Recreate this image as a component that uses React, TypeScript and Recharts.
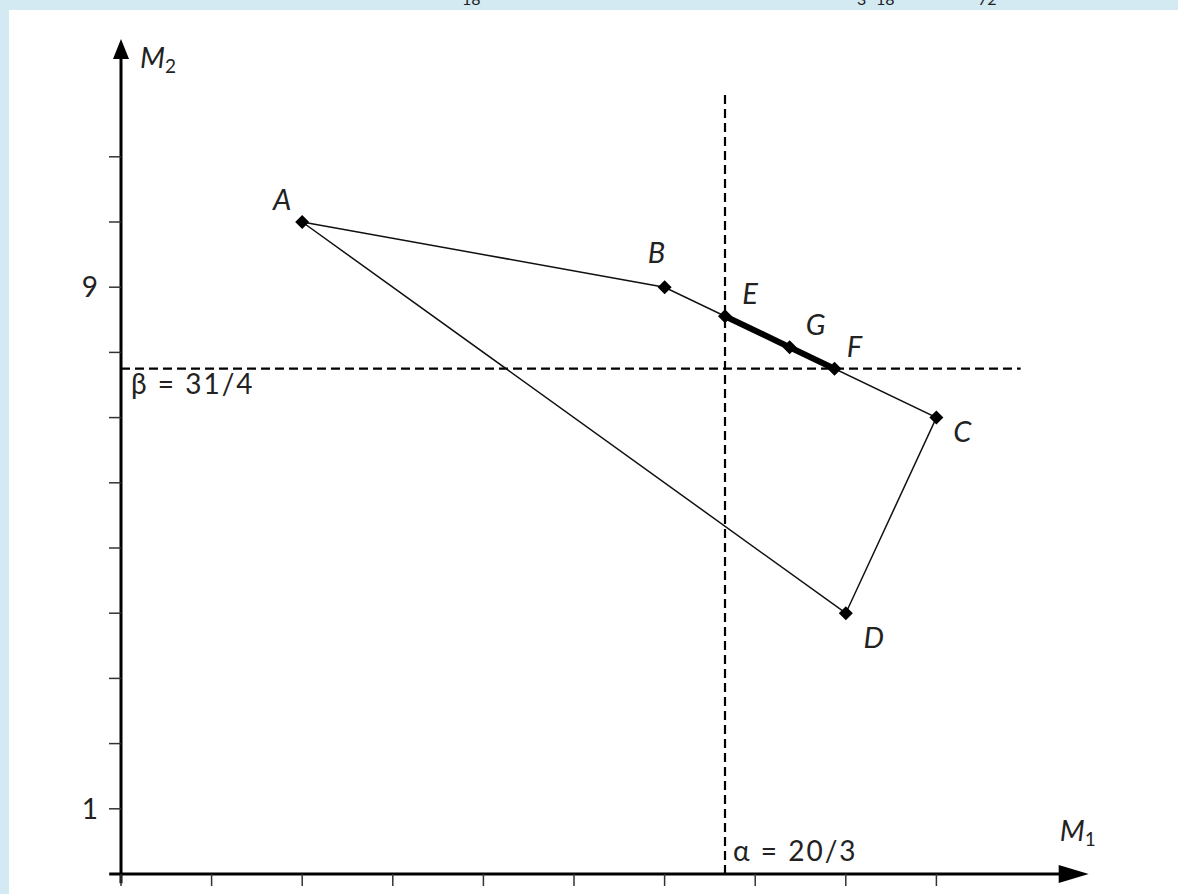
import {
  ComposedChart,
  Line,
  ReferenceDot,
  ReferenceLine,
  Scatter,
  XAxis,
  YAxis,
} from 'recharts';

// polygon A-B-C-D (closed back to A)
const polygonNames = ['A', 'B', 'C', 'D', 'A'];
const polygonX = [2, 6, 9, 8, 2];
const polygonY = [10, 9, 7, 4, 10];

// bold segment E-F on edge BC, with G on it
const segmentNames = ['E', 'G', 'F'];
const segmentX = [20 / 3, 7.38, 7.875];
const segmentY = [77 / 9, 8.08, 7.75];

const alpha = 20 / 3;
const beta = 31 / 4;

const xTicks = [0, 1, 2, 3, 4, 5, 6, 7, 8, 9];
const yTicks = [1, 2, 3, 4, 5, 6, 7, 8, 9, 10, 11];
const yTickLabels: Record<number, string> = { 1: '1', 9: '9' };

const FONT = 'Lato, "Open Sans", sans-serif';
const INK = '#222';

// label offsets from each point (px)
const labelOffset: Record<string, [number, number]> = {
  A: [-20, -24],
  B: [-8, -36],
  C: [26, 13],
  D: [28, 23],
  E: [25, -24],
  G: [26, -24],
  F: [20, -23],
};

const polygonData = polygonX.map((x, i) => ({ x, y: polygonY[i], name: polygonNames[i] }));
const segmentData = segmentX.map((x, i) => ({ x, y: segmentY[i], name: segmentNames[i] }));
const pointData = [...polygonData.slice(0, 4), ...segmentData];

function PointMark(props: any) {
  const { cx, cy, payload } = props;
  if (cx == null || cy == null) return null;
  const r = 7;
  const [dx, dy] = labelOffset[payload.name] ?? [0, 0];
  return (
    <g>
      <polygon
        points={`${cx},${cy - r} ${cx + r},${cy} ${cx},${cy + r} ${cx - r},${cy}`}
        fill="#000"
      />
      <text
        x={cx + dx}
        y={cy + dy}
        textAnchor="middle"
        dominantBaseline="central"
        fontFamily={FONT}
        fontStyle="italic"
        fontSize={29}
        fill={INK}
      >
        {payload.name}
      </text>
    </g>
  );
}

function UpArrow(props: any) {
  const { cx, cy } = props;
  return (
    <g>
      <polygon points={`${cx - 8},${cy} ${cx + 8},${cy} ${cx},${cy - 20}`} fill="#000" />
      <text x={cx + 19} y={cy + 9} fontFamily={FONT} fontStyle="italic" fontSize={29} fill={INK}>
        M
        <tspan fontSize={19} fontStyle="normal" dy={5}>
          2
        </tspan>
      </text>
    </g>
  );
}

function RightArrow(props: any) {
  const { cx, cy } = props;
  return (
    <g>
      <polygon points={`${cx},${cy - 9} ${cx},${cy + 9} ${cx + 30},${cy}`} fill="#000" />
      <text x={cx + 1} y={cy - 33} fontFamily={FONT} fontStyle="italic" fontSize={29} fill={INK}>
        M
        <tspan fontSize={19} fontStyle="normal" dy={5}>
          1
        </tspan>
      </text>
    </g>
  );
}

function BetaLabel(props: any) {
  const { viewBox } = props;
  if (!viewBox) return null;
  return (
    <text
      x={viewBox.x + 10}
      y={viewBox.y + 25}
      fontFamily={FONT}
      fontSize={28}
      letterSpacing={2}
      fill={INK}
    >
      β = 31/4
    </text>
  );
}

function AlphaLabel(props: any) {
  const { viewBox } = props;
  if (!viewBox) return null;
  return (
    <text
      x={viewBox.x + 8}
      y={viewBox.y + viewBox.height - 13}
      fontFamily={FONT}
      fontSize={28}
      letterSpacing={2}
      fill={INK}
    >
      α = 20/3
    </text>
  );
}

export default function App() {
  return (
    <div
      style={{
        position: 'absolute',
        left: 0,
        top: 0,
        width: 1178,
        height: 894,
        background: '#d3eaf2',
        overflow: 'hidden',
      }}
    >
      <div
        style={{ position: 'absolute', left: 9, top: 10, width: 1169, height: 884, background: '#fff' }}
      />
      <div style={{ position: 'absolute', left: 0, top: -11, fontFamily: FONT, fontSize: 16, color: INK }}>
        <span style={{ position: 'absolute', left: 462 }}>18</span>
        <span style={{ position: 'absolute', left: 857 }}>3</span>
        <span style={{ position: 'absolute', left: 876 }}>18</span>
        <span style={{ position: 'absolute', left: 978 }}>72</span>
      </div>
      <div style={{ position: 'absolute', left: 0, top: 0 }}>
        <ComposedChart
          width={1178}
          height={894}
          margin={{ top: 26.4, right: 60.4, bottom: 0, left: 61 }}
        >
          <XAxis
            type="number"
            dataKey="x"
            domain={[0, 11]}
            allowDataOverflow
            ticks={xTicks}
            axisLine={false}
            tickSize={12}
            tickLine={{ stroke: '#333', strokeWidth: 1.5 }}
            tickFormatter={() => ''}
            height={20}
          />
          <YAxis
            type="number"
            dataKey="y"
            domain={[0, 13]}
            allowDataOverflow
            ticks={yTicks}
            axisLine={false}
            width={60}
            tickSize={12}
            tickMargin={11}
            tickLine={{ stroke: '#333', strokeWidth: 1.5 }}
            tickFormatter={(v: number) => yTickLabels[v] ?? ''}
            tick={{ fontSize: 28, fill: INK, fontFamily: FONT }}
          />

          {/* axes with arrows */}
          <ReferenceLine
            segment={[{ x: 0, y: -0.14 }, { x: 0, y: 12.5 }]}
            stroke="#000"
            strokeWidth={3}
            ifOverflow="visible"
          />
          <ReferenceLine
            segment={[{ x: -0.13, y: 0 }, { x: 10.4, y: 0 }]}
            stroke="#000"
            strokeWidth={3}
            ifOverflow="visible"
          />
          <ReferenceDot x={0} y={12.5} ifOverflow="visible" shape={<UpArrow />} />
          <ReferenceDot x={10.35} y={0} ifOverflow="visible" shape={<RightArrow />} />

          <ReferenceLine
            segment={[{ x: alpha, y: 0 }, { x: alpha, y: 12.02 }]}
            stroke="#000"
            strokeWidth={2.2}
            strokeDasharray="9 5"
            label={<AlphaLabel />}
          />
          <ReferenceLine
            segment={[{ x: 0, y: beta }, { x: 9.93, y: beta }]}
            stroke="#000"
            strokeWidth={2.2}
            strokeDasharray="9 5"
            label={<BetaLabel />}
          />

          <Line
            data={polygonData}
            dataKey="y"
            type="linear"
            stroke="#111"
            strokeWidth={1.5}
            dot={false}
            activeDot={false}
            isAnimationActive={false}
          />
          <Line
            data={segmentData}
            dataKey="y"
            type="linear"
            stroke="#000"
            strokeWidth={6}
            dot={false}
            activeDot={false}
            isAnimationActive={false}
          />
          <Scatter data={pointData} dataKey="y" shape={<PointMark />} isAnimationActive={false} />
        </ComposedChart>
      </div>
    </div>
  );
}
